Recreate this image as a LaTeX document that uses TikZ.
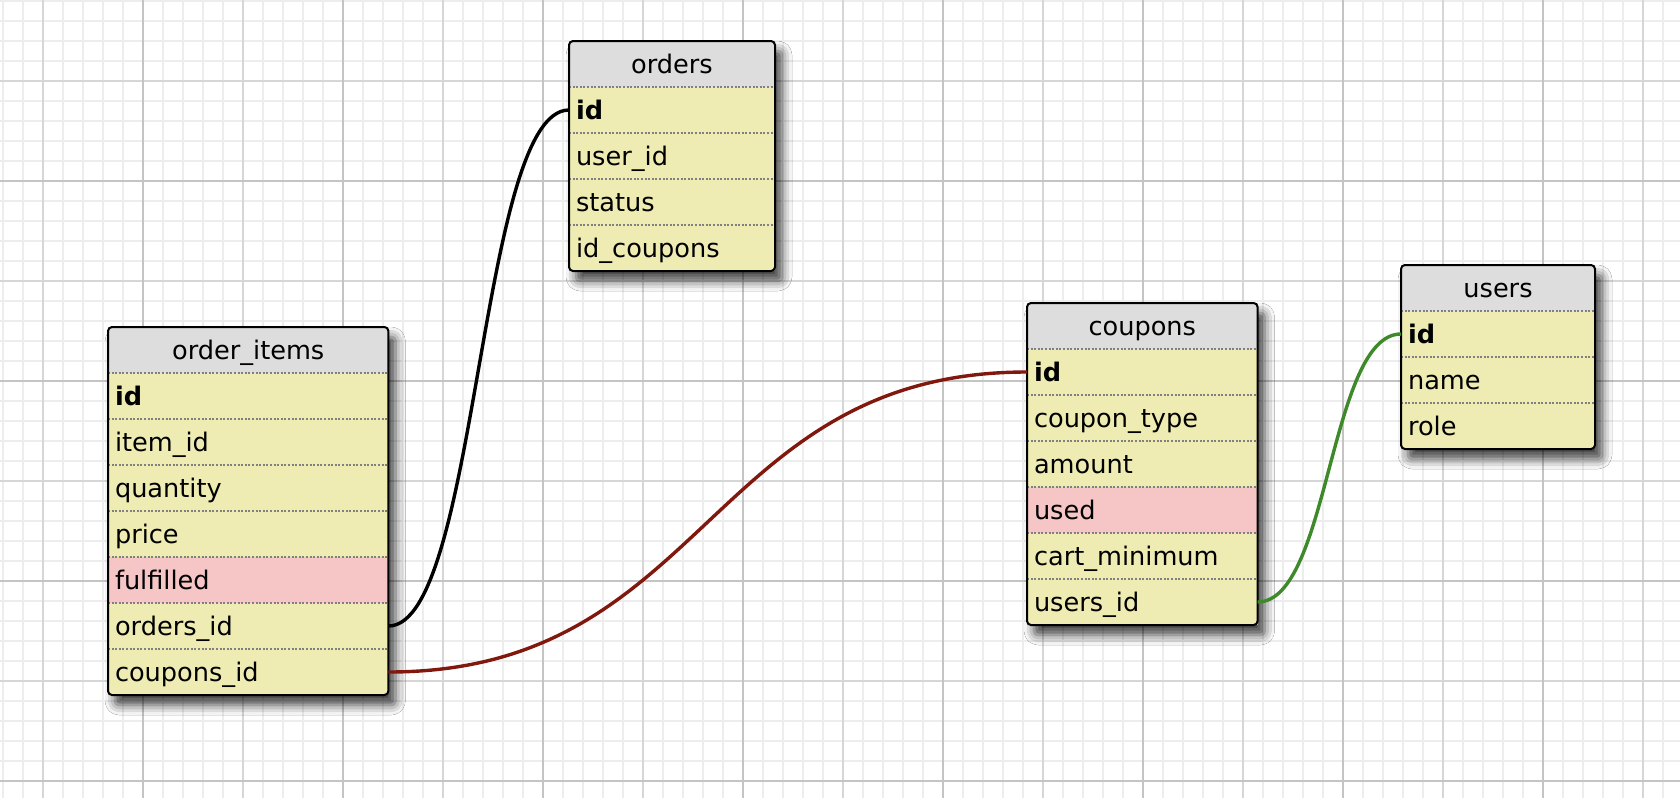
\documentclass[tikz,border=0pt]{standalone}
\usepackage{fontspec}
\setmainfont{DejaVu Sans}
\usepackage{tikz}
\usetikzlibrary{positioning}
\usetikzlibrary{backgrounds}
\usetikzlibrary{shadows.blur}

\definecolor{gridminor}{RGB}{237,237,237}
\definecolor{gridmid}{RGB}{214,214,214}
\definecolor{gridmajor}{RGB}{196,196,196}
\definecolor{headfill}{RGB}{221,221,221}
\definecolor{rowfill}{RGB}{238,236,178}
\definecolor{rowpink}{RGB}{246,198,198}
\definecolor{sepgray}{RGB}{128,128,128}
\definecolor{relred}{RGB}{128,24,14}
\definecolor{relgreen}{RGB}{62,138,42}

\tikzset{
  tblhead/.style={fill=headfill, anchor=north west, minimum height=23pt, inner xsep=3.5pt, inner ysep=0pt, outer sep=0pt, text height=12pt, text depth=3pt, align=center, font=\fontsize{12.8}{15}\selectfont},
  tblrow/.style={tblhead, fill=rowfill, align=left},
  tblpink/.style={tblrow, fill=rowpink},
  rowsep/.style={sepgray, line width=0.9pt, dash pattern=on 1pt off 0.8pt},
  tblframe/.style={draw=black, line width=1pt, rounded corners=2pt},
  tblshadow/.style={fill=white, rounded corners=2pt, blur shadow={shadow xshift=3.5pt, shadow yshift=-5pt, shadow blur radius=5pt, shadow opacity=75}},
  relation/.style={line width=1.7pt}
}

\begin{document}
\begin{tikzpicture}[x=0.5pt,y=0.5pt,yscale=-1,xscale=1]
\useasboundingbox (0,0) rectangle (1680,798);

% grid
\begin{scope}[on background layer]
\fill[white] (0,0) rectangle (1680,798);
\foreach \gx in {3,23,...,1680} \draw[gridminor, line width=0.6pt] (\gx,0) -- (\gx,798);
\foreach \gy in {1,21,...,798} \draw[gridminor, line width=0.6pt] (0,\gy) -- (1680,\gy);
\foreach \gx in {43,143,...,1680} \draw[gridmid, line width=0.6pt] (\gx,0) -- (\gx,798);
\foreach \gy in {81,181,...,798} \draw[gridmid, line width=0.6pt] (0,\gy) -- (1680,\gy);
\foreach \gx in {143,343,...,1680} \draw[gridmajor, line width=0.6pt] (\gx,0) -- (\gx,798);
\foreach \gy in {181,381,...,798} \draw[gridmajor, line width=0.6pt] (0,\gy) -- (1680,\gy);
\end{scope}

% order_items
\begin{scope}[nodes={text width=133.2pt}]
\node[tblhead] (oi) at (108,327) {order\_items};
\node[tblrow, below=0pt of oi] (oi-id) {\textbf{id}};
\node[tblrow, below=0pt of oi-id] (oi-item) {item\_id};
\node[tblrow, below=0pt of oi-item] (oi-qty) {quantity};
\node[tblrow, below=0pt of oi-qty] (oi-price) {price};
\node[tblpink, below=0pt of oi-price] (oi-ful) {fulfilled};
\node[tblrow, below=0pt of oi-ful] (oi-ord) {orders\_id};
\node[tblrow, below=0pt of oi-ord] (oi-cpn) {coupons\_id};
\end{scope}

% orders
\begin{scope}[nodes={text width=96pt}]
\node[tblhead] (o) at (569,41) {orders};
\node[tblrow, below=0pt of o] (o-id) {\textbf{id}};
\node[tblrow, below=0pt of o-id] (o-user) {user\_id};
\node[tblrow, below=0pt of o-user] (o-status) {status};
\node[tblrow, below=0pt of o-status] (o-cpn) {id\_coupons};
\end{scope}

% coupons
\begin{scope}[nodes={text width=108.3pt}]
\node[tblhead] (c) at (1027,303) {coupons};
\node[tblrow, below=0pt of c] (c-id) {\textbf{id}};
\node[tblrow, below=0pt of c-id] (c-type) {coupon\_type};
\node[tblrow, below=0pt of c-type] (c-amt) {amount};
\node[tblpink, below=0pt of c-amt] (c-used) {used};
\node[tblrow, below=0pt of c-used] (c-min) {cart\_minimum};
\node[tblrow, below=0pt of c-min] (c-user) {users\_id};
\end{scope}

% users
\begin{scope}[nodes={text width=90pt}]
\node[tblhead] (u) at (1401,265) {users};
\node[tblrow, below=0pt of u] (u-id) {\textbf{id}};
\node[tblrow, below=0pt of u-id] (u-name) {name};
\node[tblrow, below=0pt of u-name] (u-role) {role};
\end{scope}

% row separators
\foreach \r in {oi-id,oi-item,oi-qty,oi-price,oi-ful,oi-ord,oi-cpn,o-id,o-user,o-status,o-cpn,c-id,c-type,c-amt,c-used,c-min,c-user,u-id,u-name,u-role}
  \draw[rowsep] (\r.north west) -- (\r.north east);

% shadows and frames (shadows drawn unflipped)
\begin{scope}[on background layer, yscale=-1]
\path[tblshadow] (oi.north west) rectangle (oi-cpn.south east);
\path[tblshadow] (o.north west) rectangle (o-cpn.south east);
\path[tblshadow] (c.north west) rectangle (c-user.south east);
\path[tblshadow] (u.north west) rectangle (u-role.south east);
\end{scope}
\draw[tblframe] (oi.north west) rectangle (oi-cpn.south east);
\draw[tblframe] (o.north west) rectangle (o-cpn.south east);
\draw[tblframe] (c.north west) rectangle (c-user.south east);
\draw[tblframe] (u.north west) rectangle (u-role.south east);

% relations
\draw[relation, black] (oi-ord.east) .. controls +(90,0) and +(-90,0) .. (o-id.west);
\draw[relation, relred] (oi-cpn.east) .. controls +(319,0) and +(-319,0) .. (c-id.west);
\draw[relation, relgreen] (c-user.east) .. controls +(72,0) and +(-72,0) .. (u-id.west);

\end{tikzpicture}
\end{document}
